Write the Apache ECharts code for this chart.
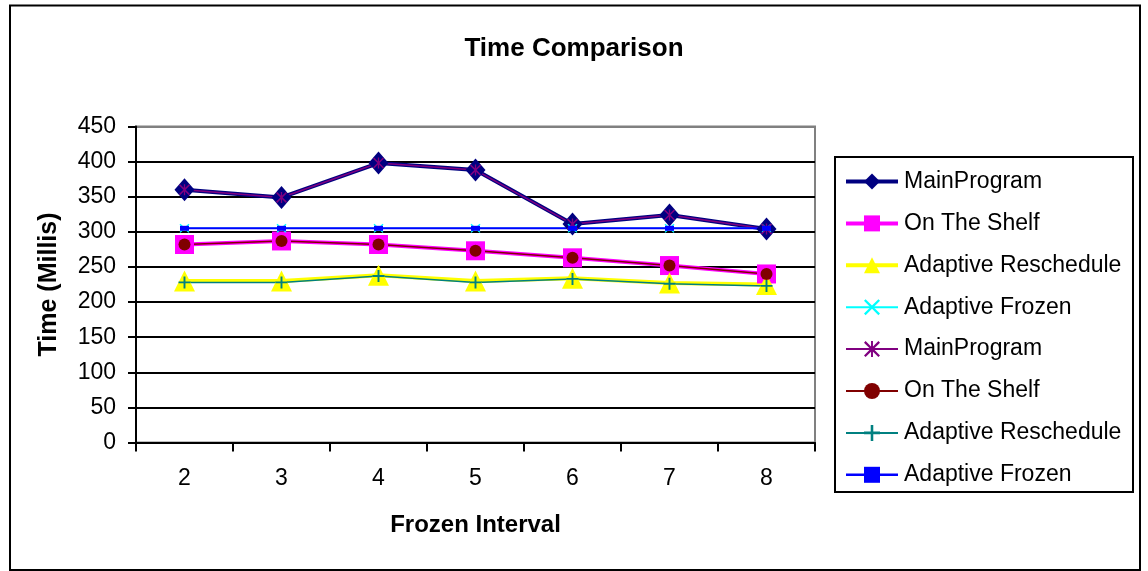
<!DOCTYPE html>
<html>
<head>
<meta charset="utf-8">
<script src="https://cdn.jsdelivr.net/npm/echarts@6/dist/echarts.min.js"></script>
<style>
html,body{margin:0;padding:0;background:#fff;}
#chart{width:1148px;height:571px;}
</style>
</head>
<body>
<div id="chart"></div>
<script>
const categories = ['2', '3', '4', '5', '6', '7', '8'];
const seriesNames = ['MainProgram', 'On The Shelf', 'Adaptive Reschedule', 'Adaptive Frozen',
                     'MainProgram ', 'On The Shelf ', 'Adaptive Reschedule ', 'Adaptive Frozen '];
const mainProgramA = [360, 349, 398, 388, 311, 324, 304];
const onTheShelfA = [282, 287, 282, 273, 263, 252, 240];
const adaptiveRescheduleA = [230, 230, 238, 230, 234, 227, 225];
const adaptiveFrozenA = [305, 305, 305, 305, 305, 305, 305];
const mainProgramB = [360, 349, 398, 388, 311, 324, 304];
const onTheShelfB = [282, 287, 282, 273, 263, 252, 240];
const adaptiveRescheduleB = [228, 228, 237, 228, 233, 226, 223];
const adaptiveFrozenB = [305, 305, 305, 305, 305, 305, 305];
const yTicks = ['0','50','100','150','200','250','300','350','400','450'];

const FONT = '"Liberation Sans", Arial, sans-serif';
const xPath = 'path://M0,1L1,0L5,4L9,0L10,1L6,5L10,9L9,10L5,6L1,10L0,9L4,5Z';
const starPath = 'path://M4.4,0H5.6V10H4.4Z M0,1L1,0L5,4L9,0L10,1L6,5L10,9L9,10L5,6L1,10L0,9L4,5Z';
const plusPath = 'path://M4.2,0H5.8V4.2H10V5.8H5.8V10H4.2V5.8H0V4.2H4.2Z';

const colors = ['#000080', '#FF00FF', '#FFFF00', '#00FFFF', '#800080', '#800000', '#008080', '#0000FF'];
const widths = [4, 4, 4, 1.5, 1.5, 1.5, 1.5, 2];

function mk(i, data, symbol, size) {
  return {
    name: seriesNames[i], type: 'line', data: data,
    symbol: symbol, symbolSize: size, showSymbol: true,
    lineStyle: {color: colors[i], width: widths[i]},
    itemStyle: {color: colors[i], borderWidth: 0},
    emphasis: {disabled: true},
    animation: false
  };
}

const chart = echarts.init(document.getElementById('chart'), null, {renderer: 'canvas'});
const splitColors = ['#000','#000','#000','#000','#000','#000','#000','#000','#000','#808080'];
chart.setOption({
  backgroundColor: '#fff',
  animation: false,
  title: {
    text: 'Time Comparison', left: 'center', top: 31,
    textStyle: {fontFamily: FONT, fontSize: 26, fontWeight: 'bold', color: '#000'}
  },
  grid: {
    left: 136, top: 126.5, width: 679, height: 316,
    show: true, borderColor: '#808080', borderWidth: 2, backgroundColor: '#fff'
  },
  legend: {
    orient: 'vertical', left: 844, top: 170, padding: 0,
    itemWidth: 52, itemHeight: 20, itemGap: 18.9,
    selectedMode: false,
    data: seriesNames.map(function (n, i) {
      return {name: n, lineStyle: {width: widths[i] + (i < 3 ? 0 : 0.5), color: colors[i]}};
    }),
    textStyle: {fontFamily: FONT, fontSize: 23, color: '#000', lineHeight: 23, padding: [0,0,0,1]}
  },
  xAxis: {
    type: 'category', data: categories, boundaryGap: true,
    name: 'Frozen Interval', nameLocation: 'middle', nameGap: 71,
    nameTextStyle: {fontFamily: FONT, fontSize: 24, fontWeight: 'bold', color: '#000'},
    axisLine: {show: true, onZero: false, lineStyle: {color: '#000', width: 2}},
    axisTick: {show: true, inside: false, length: 9, lineStyle: {color: '#000', width: 2}},
    axisLabel: {fontFamily: FONT, fontSize: 23, color: '#000', margin: 25},
    splitLine: {show: false}
  },
  yAxis: {
    type: 'value', min: 0, max: 450, interval: 50,
    name: 'Time (Millis)', nameLocation: 'middle', nameGap: 74, nameRotate: 90,
    nameTextStyle: {fontFamily: FONT, fontSize: 25, fontWeight: 'bold', color: '#000'},
    axisLine: {show: true, lineStyle: {color: '#000', width: 2}},
    axisTick: {show: true, inside: false, length: 8, lineStyle: {color: '#000', width: 2}},
    axisLabel: {fontFamily: FONT, fontSize: 23, color: '#000', margin: 20,
      formatter: function (v) { return yTicks[Math.round(v / 50)]; }},
    splitLine: {show: true, lineStyle: {color: splitColors, width: 2}}
  },
  graphic: [
    {type: 'rect', shape: {x: 10, y: 5.5, width: 1130, height: 564.5},
     style: {fill: 'none', stroke: '#000', lineWidth: 2}, z: 100, silent: true},
    {type: 'rect', shape: {x: 835, y: 157, width: 298, height: 335},
     style: {fill: 'none', stroke: '#000', lineWidth: 2}, z: 100, silent: true}
  ],
  series: [
    mk(0, mainProgramA, 'diamond', [20, 23]),
    mk(1, onTheShelfA, 'rect', 19),
    mk(2, adaptiveRescheduleA, 'triangle', [21, 21]),
    mk(3, adaptiveFrozenA, xPath, [10, 9]),
    mk(4, mainProgramB, starPath, 11),
    mk(5, onTheShelfB, 'circle', 12),
    mk(6, adaptiveRescheduleB, plusPath, 12),
    mk(7, adaptiveFrozenB, 'rect', [9, 5])
  ]
});
</script>
</body>
</html>
